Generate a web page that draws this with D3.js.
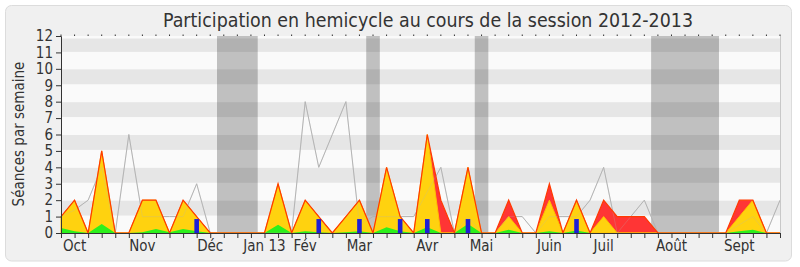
<!DOCTYPE html>
<html>
<head>
<meta charset="utf-8">
<script src="https://cdn.jsdelivr.net/npm/d3@7"></script>
<style>
  html, body { margin: 0; padding: 0; background: #ffffff; }
  svg { display: block; }
  text { font-family: "DejaVu Sans Condensed", "DejaVu Sans", sans-serif; }
</style>
</head>
<body>
<svg id="chart" width="800" height="267"></svg>
<script>
// Weekly values, one entry per week of the session (index 0 = first week of October)
const presences = [1, 2, 0, 5, 0, 0, 2, 2, 0, 2, 1, 0,
  0, 0, 0, 0, 3, 0, 2, 1, 0, 1, 2, 0, 4, 1, 0,
  6, 2, 0, 4, 0, 0, 2, 0, 0, 3, 0, 2, 0,
  2, 1, 1, 1, 0, 0, 0, 0, 0, 0, 2, 2, 0, 0];
const participations = [1, 2, 0, 5, 0, 0, 2, 2, 0, 2, 1, 0,
  0, 0, 0, 0, 3, 0, 2, 1, 0, 1, 2, 0, 4, 1, 0,
  6, 0, 0, 4, 0, 0, 1, 0, 0, 2, 0, 2, 0,
  1, 0, 0, 0, 0, 0, 0, 0, 0, 0, 1, 2, 0, 0];
const interventions = [0.3, 0.1, 0, 0.55, 0, 0, 0.05, 0.25, 0.05, 0.25, 0.1, 0,
  0, 0, 0, 0, 0.5, 0, 0.1, 0.05, 0, 0.05, 0.1, 0, 0.35, 0.1, 0,
  0.35, 0, 0, 0.55, 0, 0, 0.2, 0, 0, 0.1, 0, 0.15, 0,
  0, 0, 0, 0, 0, 0, 0, 0, 0, 0, 0.1, 0.2, 0, 0];
const mediane = [1, 1.4, 2, 4, 0, 6, 1, 1, 1, 1, 3, 0,
  0, 0, 0, 0, 0, 0, 8, 4, 6, 8, 0.5, 1, 1, 1, 1,
  2.5, 4, 0, 1, 0, 0, 1, 1, 0, 1, 1, 1, 2,
  4, 0, 1, 2, 0, 0, 0, 0, 0, 0, 0.5, 1, 0, 2];
// Weeks with an oral question, and the bar height drawn for them
const questionWeeks = [10, 19, 22, 25, 27, 30, 38];
const questionValue = 0.85;
// Parliamentary breaks, as [first, last] week positions
const vacances = [[11.5, 14.5], [22.5, 23.5], [30.5, 31.5], [43.5, 48.5]];
// Month labels and the week they are placed on
const monthLabels = ["Oct", "Nov", "Déc", "Jan 13", "Fév", "Mar", "Avr", "Mai", "Juin", "Juil", "Août", "Sept"];
const monthWeeks = [1, 6, 11, 15, 18, 22, 27, 31, 36, 40, 45, 50];
const yTicks = [0, 1, 2, 3, 4, 5, 6, 7, 8, 9, 10, 11, 12];

const svg = d3.select("#chart");
const plotLeft = 61, plotRight = 780, plotTop = 36, plotBottom = 233;
const nWeeks = presences.length;

const x = d3.scaleLinear().domain([0, nWeeks - 1]).range([plotLeft, plotRight]);
const y = d3.scaleLinear().domain([0, 12]).range([plotBottom, plotTop]);

// outer frame
svg.append("rect")
  .attr("x", 5.5).attr("y", 5.5).attr("width", 786).attr("height", 255.5)
  .attr("rx", 6).attr("fill", "#f0f0f0").attr("stroke", "#dcdcdc");

// title
svg.append("text")
  .attr("x", 428).attr("y", 27)
  .attr("text-anchor", "middle")
  .attr("font-size", 19.4)
  .attr("fill", "#333")
  .text("Participation en hemicycle au cours de la session 2012-2013");

// plot background
svg.append("rect")
  .attr("x", plotLeft).attr("y", plotTop).attr("width", plotRight - plotLeft).attr("height", plotBottom - plotTop)
  .attr("fill", "#fafafa");

// breaks
svg.append("g").selectAll("rect").data(vacances).join("rect")
  .attr("x", d => x(d[0])).attr("width", d => x(d[1]) - x(d[0]))
  .attr("y", plotTop).attr("height", plotBottom - plotTop)
  .attr("fill", "#c0c0c0");

// alternating horizontal bands
svg.append("g").selectAll("rect").data([1, 3, 5, 7, 9, 11]).join("rect")
  .attr("x", plotLeft).attr("width", plotRight - plotLeft)
  .attr("y", d => y(d + 1) + (d === 11 ? 2.5 : 0.5))
  .attr("height", d => y(d) - y(d + 1) - (d === 11 ? 3 : 1.5))
  .attr("fill", "rgba(0,0,0,0.08)");

// median line
const line = d3.line().x((d, i) => x(i)).y(d => y(d));
svg.append("path").datum(mediane)
  .attr("d", line).attr("fill", "none")
  .attr("stroke", "#b4b4b4").attr("stroke-width", 1);

const area = d3.area().x((d, i) => x(i)).y0(y(0)).y1(d => y(d));

svg.append("path").datum(presences)
  .attr("d", area).attr("fill", "#ff3535");
svg.append("path").datum(participations)
  .attr("d", area).attr("fill", "#ffd20f")
  .attr("stroke", "#ffc000").attr("stroke-width", 1);
svg.append("path").datum(interventions)
  .attr("d", area).attr("fill", "#2cf01c");
// faint trace of the median where it runs behind the filled areas
svg.append("path").datum(mediane)
  .attr("d", line).attr("fill", "none")
  .attr("stroke", "#b4b4b4").attr("stroke-opacity", 0.25).attr("stroke-width", 1);
svg.append("path").datum(presences)
  .attr("d", line).attr("fill", "none")
  .attr("stroke", "#ff3a00").attr("stroke-width", 1.2);

// oral questions
svg.append("g").selectAll("rect").data(questionWeeks).join("rect")
  .attr("x", d => x(d) - 2.3).attr("width", 4.6)
  .attr("y", y(questionValue)).attr("height", y(0) - y(questionValue))
  .attr("fill", "#1f1fd6");

// right border of the plot
svg.append("line")
  .attr("x1", plotRight + 0.5).attr("x2", plotRight + 0.5).attr("y1", plotTop).attr("y2", plotBottom)
  .attr("stroke", "#c8c8c8");

// y axis
const yAxis = svg.append("g").attr("transform", `translate(${plotLeft},0)`)
  .call(d3.axisLeft(y).tickValues(yTicks).tickSize(5).tickPadding(3).tickFormat(d3.format("d")));
yAxis.select(".domain").attr("stroke", "#333");
yAxis.selectAll(".tick line").attr("stroke", "#333");
yAxis.selectAll("text").attr("font-size", 15).attr("fill", "#333")
  .attr("font-family", "DejaVu Sans Condensed, DejaVu Sans, sans-serif");

// x axis: week ticks
const weeks = d3.range(nWeeks);
const xAxis = svg.append("g").attr("transform", `translate(0,${plotBottom})`)
  .call(d3.axisBottom(x).tickValues(weeks).tickSize(5).tickFormat(""));
xAxis.select(".domain").attr("stroke", "#333").attr("d", `M${plotLeft},0.5H${plotRight + 0.5}`);
xAxis.selectAll(".tick line").attr("stroke", "#333");

// small marks along the top edge
svg.append("g").selectAll("line").data(weeks).join("line")
  .attr("x1", d => x(d)).attr("x2", d => x(d))
  .attr("y1", plotTop - 1.5).attr("y2", plotTop)
  .attr("stroke", "#333");

// month labels
svg.append("g").selectAll("text").data(monthLabels).join("text")
  .attr("x", (d, i) => x(monthWeeks[i]))
  .attr("y", 251)
  .attr("text-anchor", "middle")
  .attr("font-size", 15)
  .attr("fill", "#333")
  .text(d => d);

// y axis title
svg.append("text")
  .attr("transform", "translate(24,134) rotate(-90)")
  .attr("text-anchor", "middle")
  .attr("font-size", 15)
  .attr("fill", "#333")
  .text("Séances par semaine");
</script>
</body>
</html>
